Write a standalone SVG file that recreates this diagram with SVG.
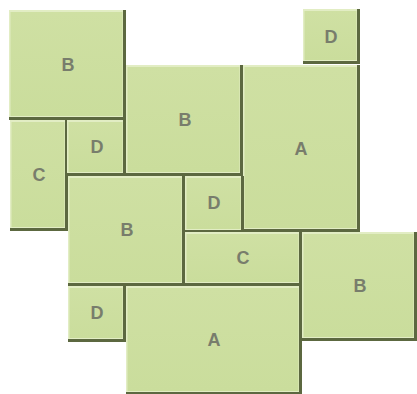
<svg xmlns="http://www.w3.org/2000/svg" width="417" height="394" viewBox="0 0 417 394">
<style>
.sh{fill:#5c6840}
.bv{fill:#e2edc4}
.fc{fill:url(#g)}
.lb{font-family:"Liberation Sans",Arial,sans-serif;font-weight:bold;font-size:18px;fill:#787d6c;text-anchor:middle;dominant-baseline:central}
</style>
<defs>
<linearGradient id="g" x1="0" y1="0" x2="0" y2="1">
<stop offset="0" stop-color="#cfe0a3"/>
<stop offset="1" stop-color="#cadd9c"/>
</linearGradient>
</defs>
<g id="n1"><rect class="sh" x="9" y="10" width="117" height="110"/><rect class="bv" x="9" y="10" width="114" height="107"/><rect class="fc" x="10.5" y="12" width="112" height="104"/><text class="lb" x="68" y="65">B</text></g>
<g id="n2"><rect class="sh" x="303" y="9" width="57" height="55"/><rect class="bv" x="303" y="9" width="54" height="52"/><rect class="fc" x="304.5" y="11" width="52" height="49"/><text class="lb" x="331" y="37">D</text></g>
<g id="n3"><rect class="sh" x="126" y="65" width="117" height="111"/><rect class="bv" x="126" y="65" width="114" height="108"/><rect class="fc" x="127.5" y="67" width="112" height="105"/><text class="lb" x="185" y="120">B</text></g>
<g id="n4"><rect class="sh" x="243" y="65" width="117" height="167"/><rect class="bv" x="243" y="65" width="114" height="164"/><rect class="fc" x="244.5" y="67" width="112" height="161"/><text class="lb" x="301" y="149">A</text></g>
<g id="n5"><rect class="sh" x="10" y="120" width="58" height="111"/><rect class="bv" x="10" y="120" width="55" height="108"/><rect class="fc" x="11.5" y="122" width="53" height="105"/><text class="lb" x="39" y="175">C</text></g>
<g id="n6"><rect class="sh" x="67" y="120" width="59" height="56"/><rect class="bv" x="67" y="120" width="56" height="53"/><rect class="fc" x="68.5" y="122" width="54" height="50"/><text class="lb" x="97" y="147">D</text></g>
<g id="n7"><rect class="sh" x="68" y="176" width="117" height="110"/><rect class="bv" x="68" y="176" width="114" height="107"/><rect class="fc" x="69.5" y="178" width="112" height="104"/><text class="lb" x="127" y="230">B</text></g>
<g id="n8"><rect class="sh" x="185" y="176" width="59" height="57"/><rect class="bv" x="185" y="176" width="56" height="54"/><rect class="fc" x="186.5" y="178" width="54" height="51"/><text class="lb" x="214" y="203">D</text></g>
<g id="n9"><rect class="sh" x="185" y="232" width="117" height="54"/><rect class="bv" x="185" y="232" width="114" height="51"/><rect class="fc" x="186.5" y="234" width="112" height="48"/><text class="lb" x="243" y="258">C</text></g>
<g id="n10"><rect class="sh" x="302" y="232" width="115" height="109"/><rect class="bv" x="302" y="232" width="112" height="106"/><rect class="fc" x="303.5" y="234" width="110" height="103"/><text class="lb" x="360" y="286">B</text></g>
<g id="n11"><rect class="sh" x="68" y="286" width="58" height="56"/><rect class="bv" x="68" y="286" width="55" height="53"/><rect class="fc" x="69.5" y="288" width="53" height="50"/><text class="lb" x="97" y="313">D</text></g>
<g id="n12"><rect class="sh" x="126" y="286" width="176" height="108"/><rect class="bv" x="126" y="286" width="173" height="106"/><rect class="fc" x="127.5" y="288" width="171" height="103"/><text class="lb" x="214" y="340">A</text></g>
<g id="connectors"/>
</svg>
